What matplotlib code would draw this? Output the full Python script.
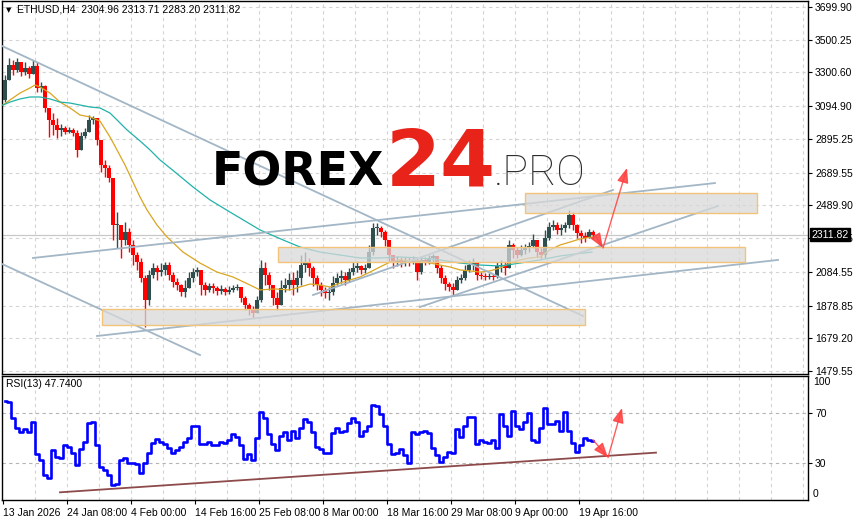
import matplotlib.pyplot as plt
from matplotlib.patches import Rectangle
import numpy as np

# ETHUSD H4, each candle below groups 4 bars
first_open = 3133
closes = [3255, 3346, 3316, 3364, 3303, 3328, 3291, 3340, 3206, 3218,
          3084, 3011, 2980, 2950, 2962, 2937, 2950, 2931, 2828, 2913,
          2937, 3011, 3023, 2889, 2736, 2718, 2657, 2370, 2370, 2279,
          2327, 2248, 2187, 2144, 2047, 1913, 2065, 2108, 2083, 2096,
          2126, 2065, 2022, 2004, 1961, 1986, 2047, 2083, 2096, 2004,
          1974, 1998, 1986, 1967, 1980, 1961, 1974, 1986, 1992, 1925,
          1882, 1852, 1833, 1913, 2108, 2065, 2004, 1925, 1882, 1986,
          2004, 2035, 2004, 2047, 2126, 2144, 2108, 2047, 2004, 1974,
          1955, 1961, 2016, 2047, 2059, 2035, 2083, 2108, 2120, 2096,
          2108, 2205, 2352, 2352, 2327, 2279, 2187, 2144, 2157, 2138,
          2151, 2144, 2157, 2083, 2157, 2144, 2169, 2181, 2108, 2047,
          2010, 1992, 1974, 2035, 2047, 2096, 2126, 2144, 2065, 2059,
          2053, 2059, 2053, 2120, 2126, 2108, 2248, 2218, 2187, 2218,
          2230, 2242, 2279, 2205, 2187, 2291, 2358, 2370, 2340, 2352,
          2370, 2431, 2370, 2321, 2303, 2291, 2327, 2311.82]
highs = [3285, 3389, 3377, 3389, 3352, 3364, 3340, 3377, 3364, 3242,
         3224, 3072, 3053, 3023, 2986, 2974, 2968, 2962, 2950, 2937,
         2962, 3041, 3035, 3023, 2889, 2767, 2736, 2657, 2449, 2370,
         2388, 2352, 2279, 2205, 2169, 2065, 2096, 2138, 2126, 2138,
         2144, 2144, 2083, 2047, 2010, 2035, 2083, 2108, 2114, 2096,
         2022, 2016, 2016, 1998, 2004, 1992, 1998, 2004, 2010, 1992,
         1937, 1894, 1876, 1937, 2157, 2144, 2083, 2004, 1961, 2035,
         2047, 2077, 2083, 2096, 2187, 2205, 2169, 2120, 2065, 2022,
         1992, 1992, 2059, 2077, 2096, 2083, 2108, 2144, 2151, 2126,
         2132, 2248, 2382, 2382, 2364, 2340, 2279, 2187, 2181, 2175,
         2175, 2175, 2181, 2169, 2181, 2175, 2187, 2193, 2181, 2126,
         2065, 2022, 2016, 2059, 2071, 2126, 2157, 2169, 2144, 2083,
         2077, 2077, 2071, 2144, 2157, 2144, 2279, 2260, 2236, 2248,
         2254, 2266, 2315, 2279, 2230, 2340, 2388, 2401, 2388, 2376,
         2388, 2462, 2449, 2376, 2340, 2327, 2346, 2340]
lows = [3120, 3255, 3285, 3303, 3279, 3285, 3267, 3303, 3181, 3181,
        3059, 2907, 2919, 2901, 2913, 2925, 2931, 2913, 2785, 2876,
        2901, 2950, 2986, 2858, 2693, 2663, 2632, 2279, 2230, 2169,
        2248, 2205, 2126, 2096, 2022, 1748, 1882, 2047, 2035, 2059,
        2065, 2035, 1992, 1974, 1937, 1931, 2004, 2022, 2059, 1943,
        1943, 1961, 1955, 1943, 1949, 1943, 1949, 1961, 1974, 1900,
        1852, 1821, 1803, 1839, 1900, 2004, 1974, 1882, 1852, 1882,
        1961, 1974, 1943, 1961, 2004, 2083, 2059, 1998, 1974, 1937,
        1925, 1913, 1943, 2004, 2016, 2004, 2022, 2065, 2083, 2071,
        2077, 2108, 2187, 2309, 2297, 2242, 2144, 2108, 2120, 2114,
        2120, 2120, 2132, 2035, 2071, 2126, 2132, 2144, 2077, 2016,
        1974, 1967, 1943, 1986, 2016, 2035, 2083, 2096, 2035, 2041,
        2035, 2041, 2035, 2047, 2083, 2065, 2108, 2169, 2169, 2181,
        2193, 2205, 2230, 2175, 2169, 2169, 2279, 2340, 2315, 2309,
        2327, 2352, 2340, 2291, 2260, 2266, 2291, 2283]
rsi = [80, 79, 66, 58, 55, 57, 55, 63, 37, 32,
       20, 18, 40, 35, 34, 44, 43, 38, 28, 41,
       47, 62, 63, 44, 27, 24, 20, 12, 13, 32,
       34, 30, 30, 29, 22, 30, 38, 46, 49, 47,
       45, 42, 38, 40, 43, 47, 50, 60, 60, 45,
       45, 47, 44, 44, 47, 46, 48, 53, 51, 44,
       33, 37, 32, 50, 71, 66, 53, 45, 40, 52,
       55, 48, 56, 50, 58, 65, 63, 55, 43, 41,
       38, 38, 54, 58, 55, 56, 62, 66, 63, 52,
       56, 60, 77, 76, 69, 60, 45, 37, 38, 41,
       36, 30, 55, 53, 55, 56, 54, 42, 36, 31,
       35, 39, 38, 57, 51, 60, 67, 67, 45, 48,
       47, 46, 48, 42, 69, 60, 52, 72, 60, 57,
       63, 70, 48, 47, 58, 74, 61, 61, 64, 56,
       71, 56, 46, 39, 44, 50, 48, 47.74]
bars_per_candle = 4

# moving averages (bar index, price)
ma_slow_bars = [0, 7, 17, 27, 32, 37, 47, 57, 67, 77, 87, 97, 107, 114, 122, 130, 137, 144,
                154, 164, 180, 197, 214, 230, 247, 257, 272, 287, 297, 307, 317, 327, 337,
                347, 357, 367, 377, 387, 397, 417, 437, 447, 457, 467, 477, 487, 497, 507,
                517, 527, 537, 547, 557, 567, 577, 589]
ma_slow = [3102, 3133, 3175, 3206, 3224, 3212, 3175, 3120, 3084, 3041, 3029, 3004, 2907,
           2828, 2736, 2632, 2541, 2462, 2370, 2297, 2205, 2138, 2083, 2053, 2004, 1974,
           1980, 1974, 1992, 2010, 2004, 1992, 2016, 2035, 2053, 2083, 2114, 2144, 2157,
           2151, 2126, 2114, 2096, 2090, 2083, 2090, 2108, 2138, 2157, 2169, 2175, 2218,
           2248, 2266, 2285, 2297]
ma_long_bars = [0, 7, 17, 27, 37, 47, 57, 67, 77, 87, 97, 107, 114, 124, 137, 147, 157, 172,
                190, 207, 227, 257, 280, 297, 317, 337, 357, 377, 397, 417, 437, 457, 477,
                497, 517, 537, 557, 572, 589]
ma_long = [3102, 3120, 3139, 3151, 3151, 3139, 3120, 3114, 3102, 3090, 3084, 3053, 3011,
           2950, 2883, 2828, 2767, 2693, 2602, 2523, 2449, 2340, 2279, 2236, 2205, 2187,
           2169, 2169, 2175, 2169, 2157, 2138, 2126, 2120, 2138, 2157, 2181, 2193, 2205]

price_ticks = [3699.90, 3500.25, 3300.60, 3094.90, 2895.25, 2689.55, 2489.90, 2290.25,
               2084.55, 1878.85, 1679.20, 1479.55]
last_price = 2311.82
date_bars = [0, 64, 128, 192, 256, 320, 384, 448, 512, 576]
date_labels = ['13 Jan 2026', '24 Jan 08:00', '4 Feb 00:00', '14 Feb 16:00', '25 Feb 08:00',
               '8 Mar 00:00', '18 Mar 16:00', '29 Mar 08:00', '9 Apr 00:00', '19 Apr 16:00']

# drawn objects: trend lines (bar, price) pairs
trend_lines = [((30, 2169), (712, 2626)),
               ((417, 1870), (715, 2486)),
               ((94, 1693), (775, 2157)),
               ((310, 1943), (610, 2584)),
               ((-1, 3462), (580, 1815)),
               ((-3, 2138), (197, 1577))]
zones = [(522, 754, 2443, 2565), (275, 742, 2144, 2236), (99, 582, 1760, 1858)]
arrows_price = [((592, 2309), (600, 2230)), ((600, 2230), (624, 2718))]
rsi_support = ((57, 6.2), (653, 38.2))
arrows_rsi = [((590, 48.6), (605, 34.2)), ((605, 34.2), (619, 74.2))]

W, H = 854, 521
fig = plt.figure(figsize=(W / 100, H / 100), dpi=100)
lab_font = dict(family='Liberation Sans', size=7.5)


def fx(px):
    return px / W


def fy(py):
    return 1 - py / H


ax = fig.add_axes([fx(2), fy(374), fx(808) - fx(2), fy(1) - fy(374)])
ax2 = fig.add_axes([fx(2), fy(500), fx(808) - fx(2), fy(376) - fy(500)])

for a in (ax, ax2):
    a.set_xlim(-1, 805)
    for s in a.spines.values():
        s.set_color('black')
        s.set_linewidth(1.0)
    for b in range(32, 805, 32):
        a.axvline(b, color='#d4d4d4', lw=0.8, ls=(0, (3, 3)), zorder=0)
    a.yaxis.tick_right()
    a.tick_params(axis='y', length=3, width=0.8, pad=2, labelsize=7.5)
    a.tick_params(axis='x', length=0)

ax.set_ylim(1461.2, 3736.5)
ax.set_yticks(price_ticks)
ax.set_yticklabels(['%.2f' % p for p in price_ticks], fontdict=lab_font)
for p in price_ticks:
    ax.axhline(p, color='#d4d4d4', lw=0.8, ls=(0, (3, 3)), zorder=0)
ax.set_xticks([])
ax.axhline(last_price, color='#c8c8c8', lw=0.9, zorder=1)

# candles
opens = [first_open] + closes[:-1]
for i, (o, c, h, l) in enumerate(zip(opens, closes, highs, lows)):
    xc = i * bars_per_candle + 2
    col = '#2f4f4f' if c >= o else '#ff0000'
    ax.vlines(xc, min(l, o, c), max(h, o, c), color=col, lw=1.0, zorder=3)
    ax.bar(xc, max(abs(c - o), 7), bottom=min(o, c), width=3.3, color=col,
           linewidth=0, zorder=3)

ax.plot(ma_slow_bars, ma_slow, color='#daa520', lw=0.9, zorder=4)
ax.plot(ma_long_bars, ma_long, color='#20b2aa', lw=0.9, zorder=4)

for (x0, y0), (x1, y1) in trend_lines:
    ax.plot([x0, x1], [y0, y1], color='#a2b6c6', lw=1.3, zorder=5, clip_on=True)

for x0, x1, y0, y1 in zones:
    ax.add_patch(Rectangle((x0, y0), x1 - x0, y1 - y0, facecolor='#d9d9d9', alpha=0.75,
                           edgecolor='none', zorder=6))
    ax.add_patch(Rectangle((x0, y0), x1 - x0, y1 - y0, facecolor='none',
                           edgecolor='#f2c47a', lw=1.0, zorder=6))

for (x0, y0), (x1, y1) in arrows_price:
    ax.annotate('', xy=(x1, y1), xytext=(x0, y0),
                arrowprops=dict(arrowstyle='-|>,head_length=0.9,head_width=0.35',
                                color='#ff4040', lw=1.0, alpha=0.85, shrinkA=0, shrinkB=0),
                zorder=7)

# current price label
ax.text(1.004, last_price, '%.2f' % last_price, transform=ax.get_yaxis_transform(),
        ha='left', va='center', color='white', fontdict=lab_font, zorder=10, clip_on=False,
        bbox=dict(boxstyle='square,pad=0.15', fc='black', ec='black'))

# RSI panel
ax2.set_ylim(0, 100)
ax2.set_yticks([70, 30])
ax2.set_yticklabels(['70', '30'], fontdict=lab_font)
for lv in (70, 30):
    ax2.axhline(lv, color='#b4b4b4', lw=0.8, ls=(0, (3, 3)), zorder=1)
ax2.text(1.006, 95, '100', transform=ax2.get_yaxis_transform(), fontdict=lab_font,
         va='center', ha='left')
ax2.text(1.006, 5, '0', transform=ax2.get_yaxis_transform(), fontdict=lab_font,
         va='center', ha='left')
rsi_x = [i * bars_per_candle + 2 for i in range(len(rsi))]
ax2.plot(rsi_x, rsi, color='#0000ff', lw=1.9, zorder=3, drawstyle='steps-mid')
(x0, y0), (x1, y1) = rsi_support
ax2.plot([x0, x1], [y0, y1], color='#8e4a4a', lw=1.3, zorder=2)
for (x0, y0), (x1, y1) in arrows_rsi:
    ax2.annotate('', xy=(x1, y1), xytext=(x0, y0),
                 arrowprops=dict(arrowstyle='-|>,head_length=0.9,head_width=0.35',
                                 color='#ff4040', lw=1.0, alpha=0.85, shrinkA=0, shrinkB=0),
                 zorder=7)
ax2.set_xticks(date_bars)
ax2.set_xticklabels(date_labels, fontdict=lab_font)
for t in ax2.get_xticklabels():
    t.set_ha('left')
ax2.tick_params(axis='x', length=3, width=0.8, pad=3)
ax2.text(0.005, 0.935, 'RSI(13) 47.7400', transform=ax2.transAxes, fontdict=lab_font,
         va='center', ha='left')

# header
fig.text(fx(6), fy(10), '\u25bc', fontsize=5, va='center', ha='left')
fig.text(fx(17), fy(10), 'ETHUSD,H4  2304.96 2313.71 2283.20 2311.82', va='center',
         ha='left', fontdict=lab_font)

# watermark
fig.text(fx(212), fy(185), 'FOREX', family='DejaVu Sans', weight='bold', size=33,
         color='black', va='baseline', ha='left', zorder=20)
fig.text(fx(386), fy(185), '24', family='DejaVu Sans', weight='bold', size=57,
         color='#e8231a', va='baseline', ha='left', zorder=20)
fig.text(fx(494), fy(185), '.PRO', family='Roboto', weight='light', size=31,
         color='#2b2b2b', va='baseline', ha='left', zorder=20)

fig.savefig('out.png', dpi=100)
